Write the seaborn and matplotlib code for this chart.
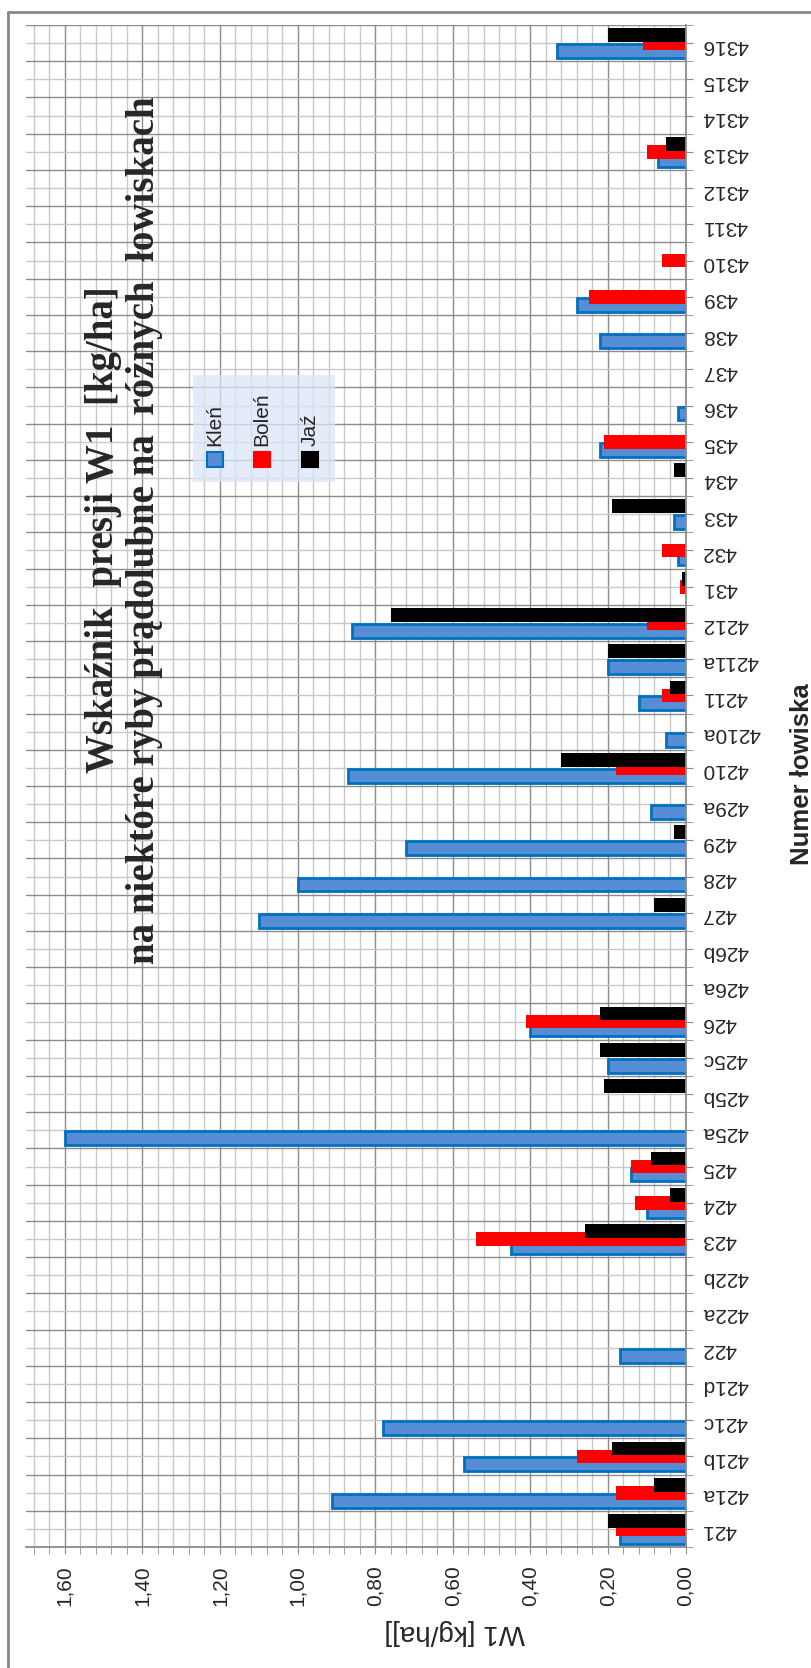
import numpy as np
import pandas as pd
import matplotlib
matplotlib.use("Agg")
import matplotlib.pyplot as plt
import seaborn as sns
from matplotlib.patches import Rectangle
from matplotlib.lines import Line2D
from matplotlib.colors import to_hex
from matplotlib.ticker import MultipleLocator, FixedLocator, FuncFormatter

# Data
lowiska = ['421', '421a', '421b', '421c', '421d', '422', '422a', '422b', '423', '424',
           '425', '425a', '425b', '425c', '426', '426a', '426b', '427', '428', '429',
           '429a', '4210', '4210a', '4211', '4211a', '4212', '431', '432', '433', '434',
           '435', '436', '437', '438', '439', '4310', '4311', '4312', '4313', '4314',
           '4315', '4316']
klen = [0.17, 0.91, 0.57, 0.78, 0, 0.17, 0, 0, 0.45, 0.10,
        0.14, 1.60, 0, 0.20, 0.40, 0, 0, 1.10, 1.00, 0.72,
        0.09, 0.87, 0.05, 0.12, 0.20, 0.86, 0, 0.02, 0.03, 0,
        0.22, 0.02, 0, 0.22, 0.28, 0, 0, 0, 0.07, 0,
        0, 0.33]
bolen = [0.18, 0.18, 0.28, 0, 0, 0, 0, 0, 0.54, 0.13,
         0.14, 0, 0, 0, 0.41, 0, 0, 0, 0, 0,
         0, 0.18, 0, 0.06, 0, 0.10, 0.015, 0.06, 0, 0,
         0.21, 0, 0, 0, 0.25, 0.06, 0, 0, 0.10, 0,
         0, 0.11]
jaz = [0.20, 0.08, 0.19, 0, 0, 0, 0, 0, 0.26, 0.04,
       0.09, 0, 0.21, 0.22, 0.22, 0, 0, 0.08, 0, 0.03,
       0, 0.32, 0, 0.04, 0.20, 0.76, 0.01, 0, 0.19, 0.03,
       0, 0, 0, 0, 0, 0, 0, 0, 0.05, 0,
       0, 0.20]
gatunki = ['Kleń', 'Boleń', 'Jaź']
kolory = ['#558ED5', '#FF0000', '#000000']

rows = []
for g, vals in zip(gatunki, [klen, bolen, jaz]):
    for c, v in zip(lowiska, vals):
        if v > 0:
            rows.append({'lowisko': c, 'gatunek': g, 'W1': v})
df = pd.DataFrame(rows)

sns.set_style('white')
plt.rcParams['font.family'] = ['Liberation Sans', 'DejaVu Sans']

W, H = 811, 1668
fig = plt.figure(figsize=(W / 100, H / 100), dpi=100)
ax = fig.add_axes([26 / W, 1 - 1547 / H, 659.5 / W, 1522 / H])

sns.barplot(data=df, x='W1', y='lowisko', hue='gatunek', order=lowiska, hue_order=gatunki,
            palette=dict(zip(gatunki, kolory)), orient='h', width=0.66, saturation=1,
            errorbar=None, legend=False, ax=ax)

# overlapping bars like in excel
for bar in ax.patches:
    yc = bar.get_y() + bar.get_height() / 2
    bar.set_height(0.38)
    bar.set_y(yc - 0.19)
    if to_hex(bar.get_facecolor()).lower() == '#558ed5':
        bar.set_edgecolor('#0070C0')
        bar.set_linewidth(2)
    else:
        bar.set_linewidth(0)

n = len(lowiska)
ax.set_xlim(1.70, 0)
ax.set_ylim(-0.5, n - 0.5)

ax.xaxis.set_major_locator(MultipleLocator(0.2))
ax.xaxis.set_minor_locator(MultipleLocator(0.04))
ax.xaxis.set_major_formatter(FuncFormatter(lambda v, p: f'{v:.2f}'.replace('.', ',')))

ax.yaxis.tick_right()
ax.set_yticks(range(n))
ax.set_yticklabels(lowiska, rotation=180)
ax.yaxis.set_minor_locator(FixedLocator(np.arange(-0.5, n, 1)))

dark, light = '#8c8c8c', '#c8c8c8'
ax.set_axisbelow(True)
ax.grid(which='minor', axis='x', color=light, lw=1)
ax.grid(which='major', axis='y', color=light, lw=1)
ax.grid(which='major', axis='x', color=dark, lw=1)
ax.grid(which='minor', axis='y', color=dark, lw=1)

ax.tick_params(axis='x', which='both', direction='out', length=5, color=dark, bottom=True,
               labelsize=15, labelrotation=90, pad=8)
ax.tick_params(axis='y', which='both', direction='out', length=5, color=dark, right=True,
               left=False, labelsize=15, pad=7)

for s in ['left', 'top']:
    ax.spines[s].set_visible(False)
for s in ['right', 'bottom']:
    ax.spines[s].set_color(dark)
    ax.spines[s].set_linewidth(1.3)

ax.set_xlabel('W1 [kg/ha]]', rotation=180, fontsize=20, ha='center', va='center')
ax.xaxis.set_label_coords(0.65, -0.056)
ax.set_ylabel('Numer łowiska', rotation=90, fontsize=18.5, fontweight='bold', ha='center', va='center')
ax.yaxis.set_label_position('right')
ax.yaxis.set_label_coords(1.158, 0.508)

# title
fig.text(124 / W, 1 - 530 / H,
         'Wskaźnik  presji W1  [kg/ha]\nna niektóre ryby prądolubne na  różnych  łowiskach',
         rotation=90, ha='center', va='center', multialignment='center',
         family=['Liberation Serif', 'DejaVu Serif'], fontweight='bold', fontsize=28, linespacing=1.15)

# legend (rotated)
fig.add_artist(Rectangle((193 / W, 1 - 482 / H), 142 / W, 107 / H, transform=fig.transFigure,
                         facecolor='#dde6f8', alpha=0.75, edgecolor='none', zorder=2))
xs = [215, 262, 310]
for g, c, x in zip(gatunki, kolory, xs):
    ec = '#0070C0' if g == 'Kleń' else c
    fig.add_artist(Rectangle(((x - 8) / W, 1 - 467 / H), 16 / W, 15 / H, transform=fig.transFigure,
                             facecolor=c, edgecolor=ec, lw=1.5, zorder=3))
    fig.text(x / W, 1 - 446 / H, g, rotation=90, ha='center', va='bottom', fontsize=15, zorder=3)

# chart frame
fig.add_artist(Line2D([8 / W, 8 / W], [0, 1 - 12 / H], transform=fig.transFigure, color='#888888', lw=2))
fig.add_artist(Line2D([8 / W, 1], [1 - 12 / H, 1 - 12 / H], transform=fig.transFigure, color='#888888', lw=2))

fig.savefig('out.png', dpi=100, facecolor='white')
